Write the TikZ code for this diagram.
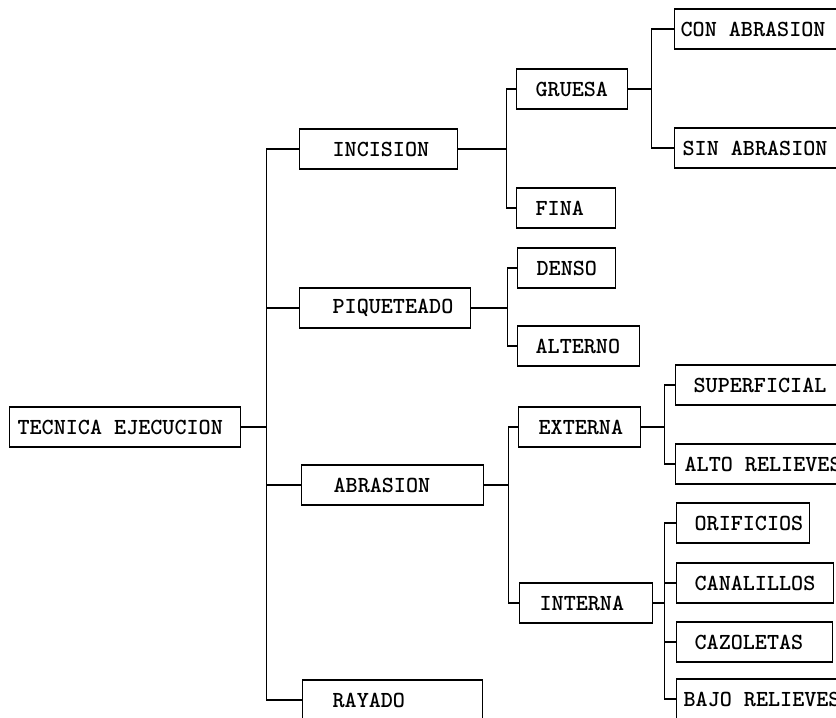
\documentclass[tikz,border=0pt]{standalone}
\setlength{\parindent}{0pt}

\begin{document}
\begin{tikzpicture}[
  x=1pt, y=-1pt,
  caja/.style 2 args={draw=black, line width=1.2pt, anchor=west, align=left,
    inner xsep=0pt, text width=#1pt, minimum height=40pt,
    font=\ttfamily\bfseries\fontsize{23}{27}\selectfont,
    execute at begin node={\spaceskip=.525em\relax\hspace*{#2pt}}},
  rama/.style={line width=1.2pt, draw=black}
]
  \useasboundingbox (0,0) rectangle (836,718);
  \clip (0,0) rectangle (836,718);

  % Raiz
  \node[caja={231}{8}] (raiz) at (9, 427) {TECNICA EJECUCION};

  % Primer nivel
  \node[caja={158}{33}] (incision) at (299, 149) {INCISION};
  \node[caja={171}{33}] (piqueteado) at (299, 308) {PIQUETEADO};
  \node[caja={182}{32}] (abrasion) at (301, 485) {ABRASION};
  \node[caja={180}{30}] (rayado) at (302, 700) {RAYADO};

  % Segundo nivel
  \node[caja={111}{19}] (gruesa) at (516, 89) {GRUESA};
  \node[caja={99}{19}] (fina) at (516, 208) {FINA};
  \node[caja={98}{19}] (denso) at (517, 268) {DENSO};
  \node[caja={122}{18}] (alterno) at (517, 346) {ALTERNO};
  \node[caja={122}{20}] (externa) at (518, 427) {EXTERNA};
  \node[caja={133}{20}] (interna) at (519, 603) {INTERNA};

  % Tercer nivel
  \node[caja={200}{6}] (conabrasion) at (674, 29) {CON ABRASION};
  \node[caja={200}{8}] (sinabrasion) at (674, 148) {SIN ABRASION};
  \node[caja={200}{18}] (superficial) at (675, 385) {SUPERFICIAL};
  \node[caja={200}{9}] (altorelieves) at (675, 464) {ALTO RELIEVES};
  \node[caja={133}{18}] (orificios) at (676, 523) {ORIFICIOS};
  \node[caja={157}{18}] (canalillos) at (676, 583) {CANALILLOS};
  \node[caja={156}{18}] (cazoletas) at (676, 642) {CAZOLETAS};
  \node[caja={200}{7}] (bajorelieves) at (676, 699) {BAJO RELIEVES};

  % Ramas de la raiz
  \draw[rama] (raiz.east) -- ++(25,0) |- (incision.west);
  \draw[rama] (raiz.east) -- ++(25,0) |- (piqueteado.west);
  \draw[rama] (raiz.east) -- ++(25,0) |- (abrasion.west);
  \draw[rama] (raiz.east) -- ++(25,0) |- (rayado.west);

  % Ramas de incision y piqueteado
  \draw[rama] (incision.east) -- ++(48,0) |- (gruesa.west);
  \draw[rama] (incision.east) -- ++(48,0) |- (fina.west);
  \draw[rama] (piqueteado.east) -- ++(36,0) |- (denso.west);
  \draw[rama] (piqueteado.east) -- ++(36,0) |- (alterno.west);

  % Ramas de abrasion
  \draw[rama] (abrasion.east) -- ++(24,0) |- (externa.west);
  \draw[rama] (abrasion.east) -- ++(24,0) |- (interna.west);

  % Ramas de gruesa
  \draw[rama] (gruesa.east) -- ++(23,0) |- (conabrasion.west);
  \draw[rama] (gruesa.east) -- ++(23,0) |- (sinabrasion.west);

  % Ramas de externa
  \draw[rama] (externa.east) -- ++(23,0) |- (superficial.west);
  \draw[rama] (externa.east) -- ++(23,0) |- (altorelieves.west);

  % Ramas de interna
  \draw[rama] (interna.east) -- ++(11,0) |- (orificios.west);
  \draw[rama] (interna.east) -- ++(11,0) |- (canalillos.west);
  \draw[rama] (interna.east) -- ++(11,0) |- (cazoletas.west);
  \draw[rama] (interna.east) -- ++(11,0) |- (bajorelieves.west);

\end{tikzpicture}
\end{document}
